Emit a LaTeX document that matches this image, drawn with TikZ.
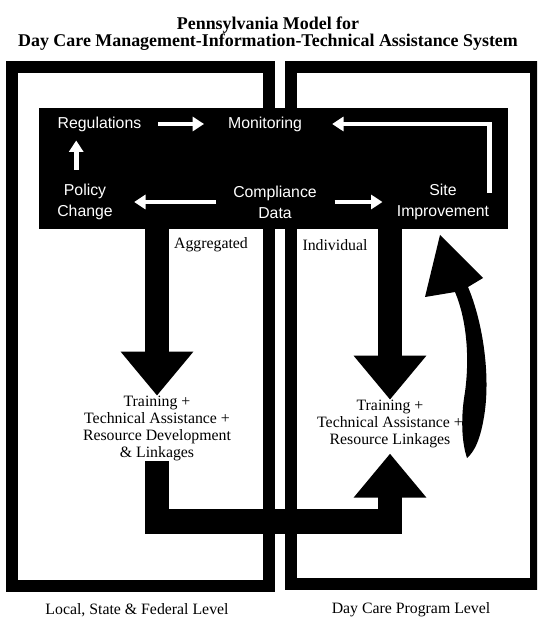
\documentclass[tikz,border=0pt]{standalone}
\usepackage{fontspec}
\setmainfont{Liberation Serif}
\newfontfamily\panelfont{Liberation Sans}
\usetikzlibrary{arrows.meta}

\begin{document}
\begin{tikzpicture}[x=0.02cm, y=-0.02cm,
    lvlbox/.style={draw, line width=6.8pt},
    panel/.style={fill=black, minimum width=9.38cm, minimum height=2.42cm, inner sep=0pt},
    lbl/.style={text=white, font=\panelfont\fontsize{9}{12}\selectfont, align=center, inner sep=0pt},
    txt/.style={font=\fontsize{9}{9.7}\selectfont, align=center, inner sep=0pt},
    warr/.style={draw=white, line width=2.8pt, -{Triangle[length=6.5pt, width=8pt]}},
    bigarr/.style={line width=13.6pt, line join=miter, -{Triangle[length=25pt, width=39.7pt]}}
]
\useasboundingbox (0,0) rectangle (537,617);
\clip (0,0) rectangle (537,617);

\node[font=\bfseries\fontsize{10.2}{9.4}\selectfont, align=center, inner sep=0pt] (title) at (268,33.5)
    {Pennsylvania Model for\\Day Care Management-Information-Technical Assistance System};

\draw[lvlbox] (12,67) rectangle (269,586);
\draw[lvlbox] (291,67) rectangle (536,584);

\node[panel] (panel) at (273.5,168.5) {};

\node[lbl] (reg)    at (99.5,124) {Regulations};
\node[lbl] (mon)    at (265,124)  {Monitoring};
\node[lbl] (policy) at (85,202)   {Policy\\Change};
\node[lbl] (comp)   at (275,202)  {Compliance\\Data};
\node[lbl] (site)   at (443,202)  {Site\\Improvement};

\draw[warr, shorten <=9.5pt, shorten >=13.5pt] (reg) -- (mon);
\draw[warr, shorten <=8pt, shorten >=5pt] ([xshift=-5pt]policy.north) -- ([xshift=-5pt]policy.north |- reg.south);
\draw[warr, shorten <=9.5pt, shorten >=12pt] (comp) -- (policy);
\draw[warr, shorten <=10pt, shorten >=8pt] (comp) -- (site);
\draw[warr, shorten >=17pt] ([yshift=-5pt]site.north east) |- (mon);

\node[txt] (aggr)   at (211,245)   {Aggregated};
\node[txt] (indiv)  at (335,245)   {Individual};
\node[txt] (trainL) at (157,428.5) {Training +\\Technical Assistance +\\Resource Development\\\& Linkages};
\node[txt] (trainR) at (390,424)   {Training +\\Technical Assistance +\\Resource Linkages};

\draw[bigarr] (panel.south -| trainL.north) -- (trainL.north);
\draw[bigarr] (panel.south -| trainR.north) -- (trainR.north);
\draw[bigarr, line width=14.2pt] (trainL.south) -- ++(0,60) -| ([yshift=-3pt]trainR.south);

\fill (440,235) -- (483,278) -- (468,287) .. controls (482,320) and (490,370) .. (485,410)
    .. controls (481,440) and (474,452) .. (467,458) .. controls (461,440) and (461,415) .. (465,392)
    .. controls (470,355) and (466,318) .. (455,292) -- (425,297) -- cycle;

\node[txt] (lvlL) at (137,610) {Local, State \& Federal Level};
\node[txt] (lvlR) at (411,610) {Day Care Program Level};
\end{tikzpicture}
\end{document}
